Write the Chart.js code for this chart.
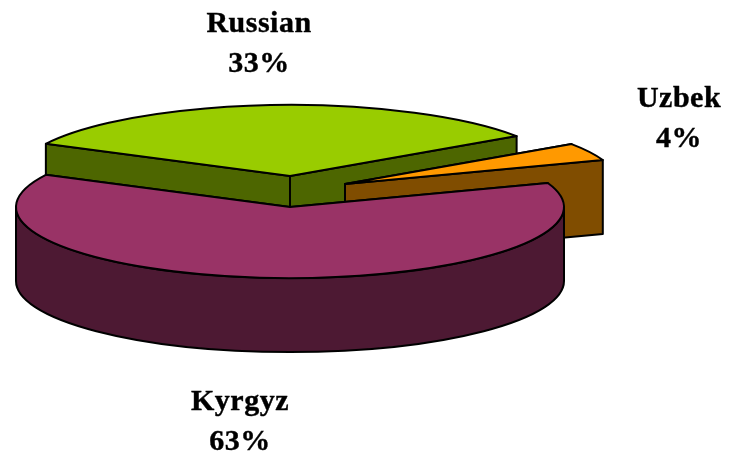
<!DOCTYPE html>
<html>
<head>
<meta charset="utf-8">
<style>
  html, body { margin: 0; padding: 0; background: #fff; }
  canvas { display: block; }
</style>
<script src="https://cdn.jsdelivr.net/npm/chart.js@4/dist/chart.umd.min.js"></script>
</head>
<body>
<canvas id="chart" width="729" height="455"></canvas>
<script>
const categories = ['Russian', 'Uzbek', 'Kyrgyz'];
const shares = [33, 4, 63];
const topColors = ['#99cc00', '#ff9900', '#993366'];
const sideColors = ['#4d6600', '#804d00', '#4d1933'];

// where each slice's apex sits on the page (slices are pulled apart unevenly)
const apexX = [290, 345, 290];
const apexY = [176, 184, 207];
const labelX = [259, 679, 240];
const labelY = [32, 107, 410];

const radiusX = 274;
const radiusY = 71;
const depth = 74;
const lineWidth = 2;

function pointAt(i, angle) {
  return [apexX[i] + Math.cos(angle) * radiusX, apexY[i] + Math.sin(angle) * radiusY];
}

function drawWalls(ctx, i, arc) {
  const corners = [arc.startAngle, arc.endAngle];
  ctx.fillStyle = sideColors[i];

  corners.forEach(function (angle) {
    const p = pointAt(i, angle);
    ctx.beginPath();
    ctx.moveTo(apexX[i], apexY[i]);
    ctx.lineTo(p[0], p[1]);
    ctx.lineTo(p[0], p[1] + depth);
    ctx.lineTo(apexX[i], apexY[i] + depth);
    ctx.closePath();
    ctx.fill();
    ctx.stroke();
  });

  // only the front half of the rim can be seen
  const from = Math.max(arc.startAngle, 0);
  const to = Math.min(arc.endAngle, Math.PI);
  if (from < to) {
    ctx.beginPath();
    ctx.ellipse(apexX[i], apexY[i], radiusX, radiusY, 0, from, to);
    ctx.ellipse(apexX[i], apexY[i] + depth, radiusX, radiusY, 0, to, from, true);
    ctx.closePath();
    ctx.fill();
    ctx.stroke();
  }
}

const pie3d = {
  id: 'pie3d',
  beforeDatasetsDraw(chart) {
    const ctx = chart.ctx;
    const arcs = chart.getDatasetMeta(0).data;
    ctx.save();
    ctx.strokeStyle = '#000';
    ctx.lineWidth = lineWidth;
    ctx.lineJoin = 'round';

    arcs.forEach(function (el, i) {
      const arc = el.getProps(['startAngle', 'endAngle', 'outerRadius', 'x', 'y'], true);
      // angles may run past a full turn, bring the slice back around 0
      let start = arc.startAngle % (Math.PI * 2);
      if (start > Math.PI) start -= Math.PI * 2;
      const sweep = arc.endAngle - arc.startAngle;
      drawWalls(ctx, i, { startAngle: start, endAngle: start + sweep });

      ctx.save();
      ctx.translate(apexX[i], apexY[i]);
      ctx.scale(radiusX / arc.outerRadius, radiusY / arc.outerRadius);
      ctx.translate(-arc.x, -arc.y);
      el.draw(ctx);
      ctx.restore();

      ctx.beginPath();
      ctx.moveTo(apexX[i], apexY[i]);
      ctx.ellipse(apexX[i], apexY[i], radiusX, radiusY, 0, start, start + sweep);
      ctx.closePath();
      ctx.stroke();
    });

    ctx.restore();
    return false;
  },
  afterDraw(chart) {
    const ctx = chart.ctx;
    ctx.save();
    ctx.fillStyle = '#000';
    ctx.strokeStyle = '#000';
    ctx.lineWidth = 0.4;
    ctx.font = 'bold 30px "Liberation Serif"';
    ctx.letterSpacing = '0.5px';
    ctx.textAlign = 'center';
    categories.forEach(function (name, i) {
      [name, shares[i] + '%'].forEach(function (text, row) {
        ctx.fillText(text, labelX[i], labelY[i] + row * 40);
        ctx.strokeText(text, labelX[i], labelY[i] + row * 40);
      });
    });
    ctx.restore();
  }
};

new Chart(document.getElementById('chart'), {
  type: 'pie',
  data: {
    labels: categories,
    datasets: [{
      data: shares,
      backgroundColor: topColors,
      borderWidth: 0
    }]
  },
  options: {
    responsive: false,
    animation: false,
    rotation: 297,
    plugins: {
      legend: { display: false },
      tooltip: { enabled: false }
    }
  },
  plugins: [pie3d]
});
</script>
</body>
</html>
